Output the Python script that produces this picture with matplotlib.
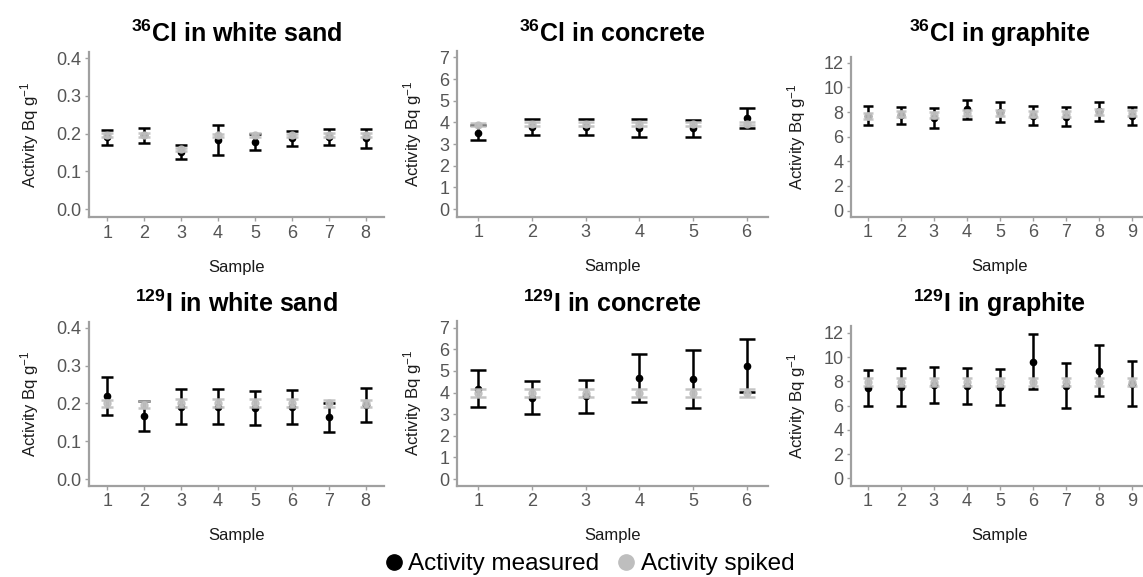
import numpy as np
import matplotlib
matplotlib.use("Agg")
import matplotlib.pyplot as plt
from matplotlib.lines import Line2D

plt.rcParams['font.family'] = ['Liberation Sans', 'DejaVu Sans']
plt.rcParams['mathtext.default'] = 'regular'

# Measured activity (centre, half-width of error bar) and spiked activity per sample
cl_sand_meas = [0.190, 0.195, 0.151, 0.183, 0.177, 0.188, 0.190, 0.187]
cl_sand_meas_err = [0.019, 0.021, 0.018, 0.039, 0.021, 0.020, 0.021, 0.025]
cl_sand_spk = [0.196, 0.196, 0.158, 0.195, 0.196, 0.195, 0.196, 0.196]
cl_sand_spk_err = [0.005, 0.005, 0.005, 0.005, 0.005, 0.005, 0.005, 0.005]

cl_conc_meas = [3.53, 3.78, 3.78, 3.74, 3.73, 4.21]
cl_conc_meas_err = [0.36, 0.38, 0.38, 0.43, 0.39, 0.46]
cl_conc_spk = [3.90, 3.92, 3.92, 3.92, 3.93, 3.95]
cl_conc_spk_err = [0.08, 0.08, 0.08, 0.08, 0.08, 0.08]

cl_graph_meas = [7.72, 7.74, 7.52, 8.21, 8.00, 7.70, 7.61, 8.07, 7.66]
cl_graph_meas_err = [0.75, 0.68, 0.79, 0.77, 0.79, 0.78, 0.77, 0.77, 0.75]
cl_graph_spk = [7.68, 7.84, 7.74, 7.90, 7.90, 7.84, 7.84, 8.03, 7.90]
cl_graph_spk_err = [0.25, 0.25, 0.25, 0.25, 0.25, 0.25, 0.25, 0.25, 0.25]

i_sand_meas = [0.220, 0.167, 0.191, 0.192, 0.188, 0.190, 0.163, 0.195]
i_sand_meas_err = [0.051, 0.039, 0.046, 0.045, 0.045, 0.045, 0.038, 0.045]
i_sand_spk = [0.200, 0.197, 0.202, 0.202, 0.202, 0.202, 0.200, 0.200]
i_sand_spk_err = [0.010, 0.010, 0.010, 0.010, 0.010, 0.010, 0.010, 0.010]

i_conc_meas = [4.18, 3.77, 3.82, 4.68, 4.63, 5.25]
i_conc_meas_err = [0.85, 0.75, 0.77, 1.12, 1.36, 1.21]
i_conc_spk = [3.98, 3.98, 3.98, 3.98, 3.98, 3.98]
i_conc_spk_err = [0.19, 0.19, 0.19, 0.19, 0.19, 0.19]

i_graph_meas = [7.47, 7.53, 7.70, 7.62, 7.54, 9.61, 7.64, 8.87, 7.80]
i_graph_meas_err = [1.48, 1.54, 1.50, 1.50, 1.47, 2.25, 1.86, 2.09, 1.84]
i_graph_spk = [7.92, 7.92, 7.92, 7.92, 7.92, 7.92, 7.92, 7.92, 7.92]
i_graph_spk_err = [0.34, 0.34, 0.34, 0.34, 0.34, 0.34, 0.34, 0.34, 0.34]

titles = [r"$^{36}$Cl in white sand", r"$^{36}$Cl in concrete", r"$^{36}$Cl in graphite",
          r"$^{129}$I in white sand", r"$^{129}$I in concrete", r"$^{129}$I in graphite"]

panels = [
    (cl_sand_meas, cl_sand_meas_err, cl_sand_spk, cl_sand_spk_err),
    (cl_conc_meas, cl_conc_meas_err, cl_conc_spk, cl_conc_spk_err),
    (cl_graph_meas, cl_graph_meas_err, cl_graph_spk, cl_graph_spk_err),
    (i_sand_meas, i_sand_meas_err, i_sand_spk, i_sand_spk_err),
    (i_conc_meas, i_conc_meas_err, i_conc_spk, i_conc_spk_err),
    (i_graph_meas, i_graph_meas_err, i_graph_spk, i_graph_spk_err),
]

# axes boxes in pixels: left, right, top, bottom
W, H = 1143, 577
boxes = [(89, 384, 52.4, 217), (457, 768, 51, 216.7), (851, 1149, 57.3, 216.7),
         (89, 384, 322, 485.7), (457, 768, 320.8, 485.7), (851, 1149, 325.5, 485.7)]
ylims = [(-0.021, 0.415), (-0.35, 7.3), (-0.5, 12.45),
         (-0.017, 0.415), (-0.31, 7.32), (-0.6, 12.6)]
xlims = [(0.5, 8.5), (0.6, 6.4), (0.5, 9.5)] * 2
yticks = [np.arange(0, 0.41, 0.1), np.arange(0, 8), np.arange(0, 13, 2)] * 2
title_y = [42, 42, 42, 312, 312, 312]

axis_col = '#a0a0a0'
tick_col = '#555555'
spk_col = '#bebebe'

fig = plt.figure(figsize=(W / 100, H / 100), dpi=100)

for k in range(6):
    l, r, t, b = boxes[k]
    ax = fig.add_axes([l / W, 1 - b / H, (r - l) / W, (b - t) / H])
    meas, meas_err, spk, spk_err = panels[k]
    x = np.arange(1, len(meas) + 1)
    ax.set_xlim(*xlims[k])
    ax.set_ylim(*ylims[k])
    px_per_unit = (r - l) / (xlims[k][1] - xlims[k][0])
    cap = 0.15 * px_per_unit * 72 / 100

    ax.errorbar(x, meas, yerr=meas_err, fmt='o', color='black', ms=4.5,
                elinewidth=1.8, capsize=cap, capthick=1.8, zorder=3)
    ax.errorbar(x, spk, yerr=spk_err, fmt='o', color=spk_col, ms=5,
                elinewidth=1.8, capsize=cap, capthick=1.8, alpha=0.9, zorder=4)

    for side in ['top', 'right']:
        ax.spines[side].set_visible(False)
    for side in ['left', 'bottom']:
        ax.spines[side].set_color(axis_col)
        ax.spines[side].set_linewidth(1.6)
    ax.set_xticks(x)
    ax.set_yticks(yticks[k])
    if k % 3 == 0:
        ax.set_yticklabels([f"{v:.1f}" for v in yticks[k]])
    ax.tick_params(colors=axis_col, labelcolor=tick_col, labelsize=13,
                   length=3, width=1, pad=2.5)
    ax.set_xlabel("Sample", fontsize=12, labelpad=13, color='#1a1a1a')
    ax.set_ylabel(r"Activity Bq g$^{-1}$", fontsize=12, labelpad=11, color='#1a1a1a')

    fig.text((l + r) / 2 / W, 1 - title_y[k] / H, titles[k], ha='center',
             va='baseline', fontsize=18, fontweight='bold')

handles = [Line2D([], [], ls='', marker='o', color='black', ms=11),
           Line2D([], [], ls='', marker='o', color=spk_col, ms=11)]
fig.legend(handles, ["Activity measured", "Activity spiked"], loc='center',
           bbox_to_anchor=(588 / W, 1 - 564 / H), ncol=2, frameon=False,
           fontsize=17.5, handletextpad=0.1, columnspacing=0.6, handlelength=1.0)

fig.savefig("out.png", dpi=100)
